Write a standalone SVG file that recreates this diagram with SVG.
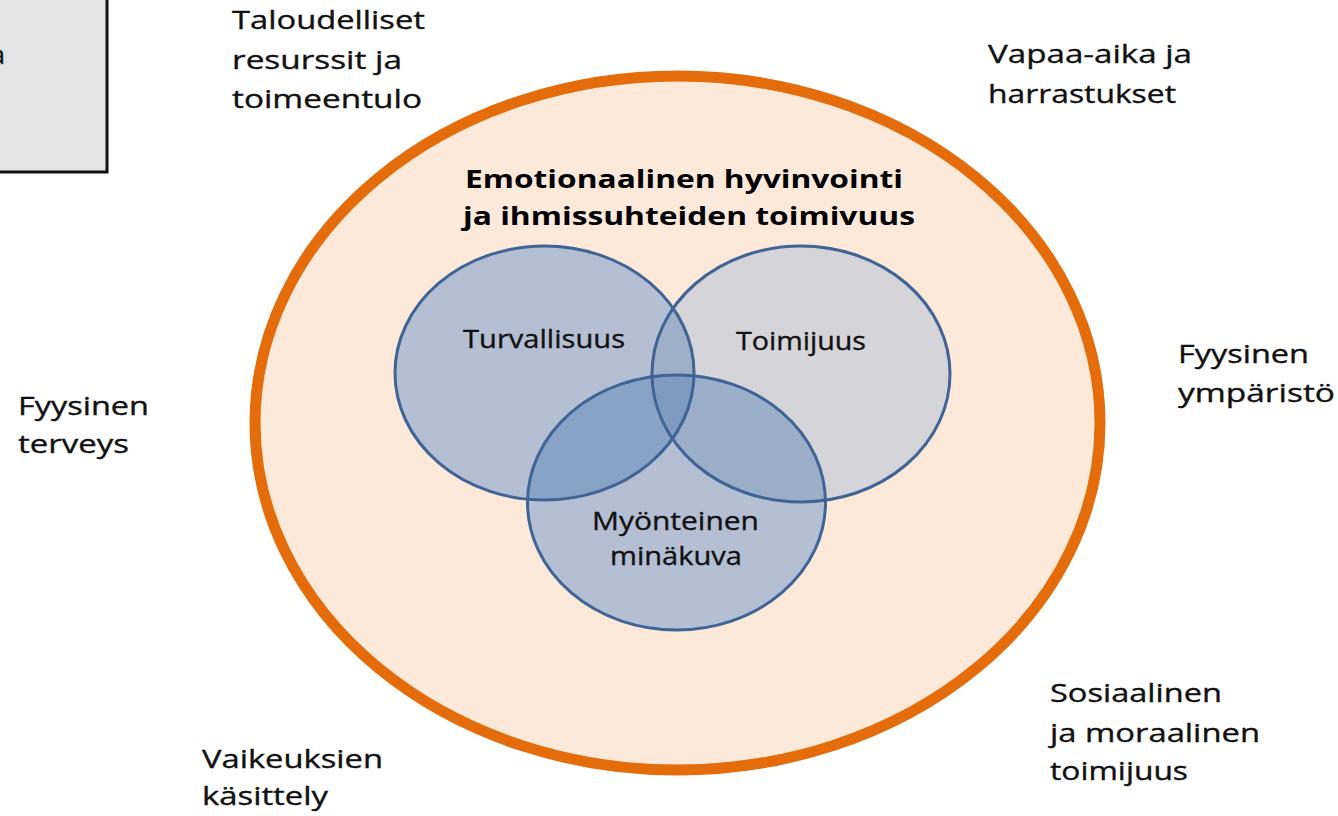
<svg xmlns="http://www.w3.org/2000/svg" width="1338" height="816" viewBox="0 0 1338 816">
  <style>
    .lbl { font-family: "Open Sans", "Liberation Sans", sans-serif; font-size: 25px; fill: #111; stroke: #111; stroke-width: 0.35px; }
    .ttl { font-family: "Open Sans", "Liberation Sans", sans-serif; font-size: 25px; font-weight: bold; fill: #000; }
    .ring { fill: none; stroke: #3f6495; stroke-width: 3; }
  </style>
  <defs>
    <clipPath id="clipL"><ellipse cx="544.5" cy="373" rx="149.5" ry="127"/></clipPath>
    <clipPath id="clipR"><ellipse cx="801" cy="374" rx="149" ry="128"/></clipPath>
    <clipPath id="clipB"><ellipse cx="676.5" cy="502.5" rx="149" ry="127.5"/></clipPath>
  </defs>
  <rect width="1338" height="816" fill="#fff"/>

  <g id="corner-box">
    <rect x="-5" y="-5" width="112" height="177" fill="#e4e4e4" stroke="#111" stroke-width="3"/>
    <text class="lbl" x="5" y="64" text-anchor="end" font-size="30px">a</text>
  </g>

  <g id="outer">
    <ellipse cx="677.5" cy="423" rx="422.5" ry="347" fill="#fde9d9" stroke="#e46c0a" stroke-width="11"/>
    <text class="ttl" x="465" y="188" textLength="438" lengthAdjust="spacingAndGlyphs">Emotionaalinen hyvinvointi</text>
    <text class="ttl" x="463" y="225" textLength="452" lengthAdjust="spacingAndGlyphs">ja ihmissuhteiden toimivuus</text>
  </g>

  <g id="venn">
    <ellipse cx="544.5" cy="373" rx="149.5" ry="127" fill="#b4bfd3"/>
    <ellipse cx="801" cy="374" rx="149" ry="128" fill="#d5d4d8"/>
    <ellipse cx="676.5" cy="502.5" rx="149" ry="127.5" fill="#b4bfd3"/>
    <g clip-path="url(#clipL)">
      <ellipse cx="801" cy="374" rx="149" ry="128" fill="#9eb0c8"/>
      <ellipse cx="676.5" cy="502.5" rx="149" ry="127.5" fill="#89a3c7"/>
    </g>
    <g clip-path="url(#clipR)">
      <ellipse cx="676.5" cy="502.5" rx="149" ry="127.5" fill="#9cafca"/>
    </g>
    <g clip-path="url(#clipL)">
      <g clip-path="url(#clipR)">
        <ellipse cx="676.5" cy="502.5" rx="149" ry="127.5" fill="#7f9bc2"/>
      </g>
    </g>
  </g>

  <g id="node-turvallisuus">
    <ellipse class="ring" cx="544.5" cy="373" rx="149.5" ry="127"/>
    <text class="lbl" x="463" y="348" textLength="162" lengthAdjust="spacingAndGlyphs">Turvallisuus</text>
  </g>
  <g id="node-toimijuus">
    <ellipse class="ring" cx="801" cy="374" rx="149" ry="128"/>
    <text class="lbl" x="736" y="350" textLength="130" lengthAdjust="spacingAndGlyphs">Toimijuus</text>
  </g>
  <g id="node-minakuva">
    <ellipse class="ring" cx="676.5" cy="502.5" rx="149" ry="127.5"/>
    <text class="lbl" x="592" y="530" textLength="167" lengthAdjust="spacingAndGlyphs">Myönteinen</text>
    <text class="lbl" x="610" y="565" textLength="132" lengthAdjust="spacingAndGlyphs">minäkuva</text>
  </g>

  <g id="label-talous">
    <text class="lbl" x="232" y="29" textLength="193" lengthAdjust="spacingAndGlyphs">Taloudelliset</text>
    <text class="lbl" x="232" y="69" textLength="170" lengthAdjust="spacingAndGlyphs">resurssit ja</text>
    <text class="lbl" x="232" y="108" textLength="190" lengthAdjust="spacingAndGlyphs">toimeentulo</text>
  </g>
  <g id="label-vapaa-aika">
    <text class="lbl" x="988" y="63" textLength="204" lengthAdjust="spacingAndGlyphs">Vapaa-aika ja</text>
    <text class="lbl" x="988" y="103" textLength="188" lengthAdjust="spacingAndGlyphs">harrastukset</text>
  </g>
  <g id="label-terveys">
    <text class="lbl" x="18" y="415" textLength="131" lengthAdjust="spacingAndGlyphs">Fyysinen</text>
    <text class="lbl" x="18" y="453" textLength="111" lengthAdjust="spacingAndGlyphs">terveys</text>
  </g>
  <g id="label-ymparisto">
    <text class="lbl" x="1178" y="363" textLength="131" lengthAdjust="spacingAndGlyphs">Fyysinen</text>
    <text class="lbl" x="1178" y="402" textLength="157" lengthAdjust="spacingAndGlyphs">ympäristö</text>
  </g>
  <g id="label-sosiaalinen">
    <text class="lbl" x="1050" y="702" textLength="172" lengthAdjust="spacingAndGlyphs">Sosiaalinen</text>
    <text class="lbl" x="1050" y="742" textLength="210" lengthAdjust="spacingAndGlyphs">ja moraalinen</text>
    <text class="lbl" x="1050" y="780" textLength="138" lengthAdjust="spacingAndGlyphs">toimijuus</text>
  </g>
  <g id="label-vaikeudet">
    <text class="lbl" x="202" y="768" textLength="181" lengthAdjust="spacingAndGlyphs">Vaikeuksien</text>
    <text class="lbl" x="202" y="805" textLength="126" lengthAdjust="spacingAndGlyphs">käsittely</text>
  </g>

  <g id="connectors"/>
</svg>
